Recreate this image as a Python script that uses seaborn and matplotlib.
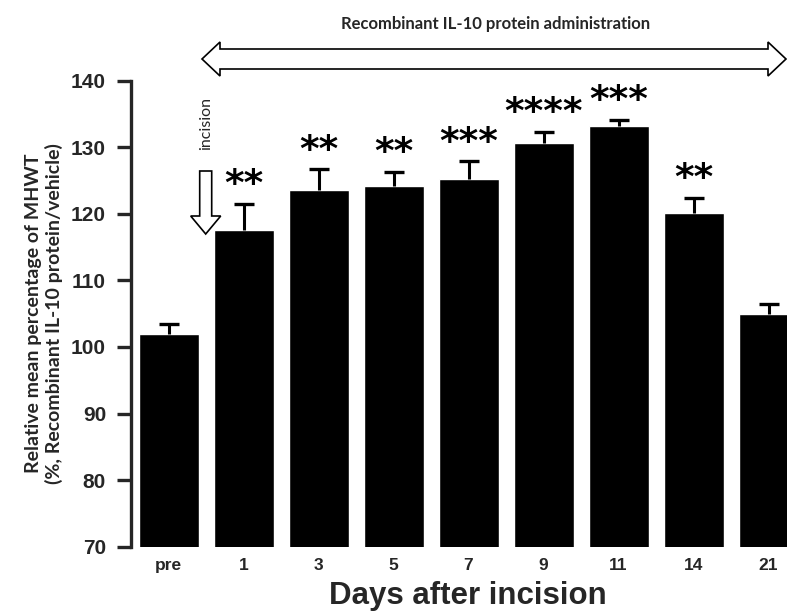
import numpy as np
import pandas as pd
import seaborn as sns
import matplotlib.pyplot as plt
import matplotlib.transforms as mtransforms
from matplotlib.patches import Polygon

# values
days = ["pre", "1", "3", "5", "7", "9", "11", "14", "21"]
mean_pct = [102.0, 117.5, 123.6, 124.2, 125.2, 130.6, 133.2, 120.2, 105.0]
sem_pct = [1.5, 4.0, 3.1, 2.1, 2.7, 1.7, 0.9, 2.2, 1.4]
stars = ["", "**", "**", "**", "***", "****", "***", "**", ""]

df = pd.DataFrame({"day": days, "mean": mean_pct, "sem": sem_pct})

sns.set_style("ticks")
plt.rcParams["font.family"] = ["Liberation Sans", "DejaVu Sans"]
calibri_like = ["Lato", "DejaVu Sans"]

W, H = 787, 612
fig = plt.figure(figsize=(W / 100, H / 100), dpi=100)
ax = fig.add_axes([131 / W, 1 - 546.7 / H, 1 - 131 / W, (546.7 - 80.7) / H])

sns.barplot(data=df, x="day", y="mean", color="black", saturation=1,
            width=0.8, errorbar=None, ax=ax)
x = np.arange(len(days))
_, caps, _ = ax.errorbar(x, df["mean"], yerr=[np.zeros(len(days)), df["sem"]],
                         fmt="none", ecolor="black", elinewidth=2.2,
                         capsize=7.5, capthick=2.4)
caps[0].remove()  # only the upper caps are drawn in the original

for xi, m, s, st in zip(x, df["mean"], df["sem"], stars):
    if st:
        ax.text(xi, m + s + 0.1, st, ha="center", va="bottom", fontsize=27,
                fontweight="bold", color="black", family="DejaVu Sans")

ax.set_ylim(70, 140)
ax.set_xlim(-0.5, (W - 168.5) / 75)
ax.set_yticks(range(70, 141, 10))
sns.despine(ax=ax, bottom=True)
ax.spines["left"].set_linewidth(2.4)
ax.tick_params(axis="y", length=10, width=2.4, labelsize=15, pad=8)
ax.tick_params(axis="x", length=0, labelsize=12.5, pad=8)
for lab in ax.get_xticklabels() + ax.get_yticklabels():
    lab.set_fontweight("bold")
ax.set_xlabel("Days after incision", fontsize=22.5, fontweight="bold")
ax.xaxis.set_label_coords((468 - 131) / (W - 131), -(581 - 546.7) / 466)
ax.set_ylabel("Relative mean percentage of MHWT\n(%, Recombinant IL-10 protein/vehicle)",
              fontsize=14, fontweight="bold", family=calibri_like, linespacing=1.2)
ax.yaxis.set_label_coords(-(131 - 63) / (W - 131), 0.5)
ax.patch.set_alpha(0)

# helpers in image pixel coordinates (origin top-left)
pix = mtransforms.Affine2D().scale(1 / W, -1 / H).translate(0, 1) + fig.transFigure

# double-headed administration arrow
l, r, yc = 202, 786, 59
hl, hh, bh = 18, 17, 10
dbl = [(l, yc), (l + hl, yc - hh), (l + hl, yc - bh), (r - hl, yc - bh), (r - hl, yc - hh),
       (r, yc), (r - hl, yc + hh), (r - hl, yc + bh), (l + hl, yc + bh), (l + hl, yc + hh)]
fig.patches.append(Polygon(dbl, closed=True, facecolor="white", edgecolor="black",
                           linewidth=1.2, transform=pix))
fig.text(496 / W, 1 - 24 / H, "Recombinant IL-10 protein administration",
         ha="center", va="center", fontsize=12, fontweight="bold", family=calibri_like)

# incision arrow
xc = 205.7
down = [(xc - 6, 171), (xc + 6, 171), (xc + 6, 216), (xc + 15, 216), (xc, 234),
        (xc - 15, 216), (xc - 6, 216)]
fig.patches.append(Polygon(down, closed=True, facecolor="white", edgecolor="black",
                           linewidth=1.2, transform=pix))
fig.text(xc / W, 1 - 124 / H, "incision", rotation=90, ha="center", va="center",
         fontsize=11.5, family=calibri_like)

fig.savefig("out.png", dpi=100)
